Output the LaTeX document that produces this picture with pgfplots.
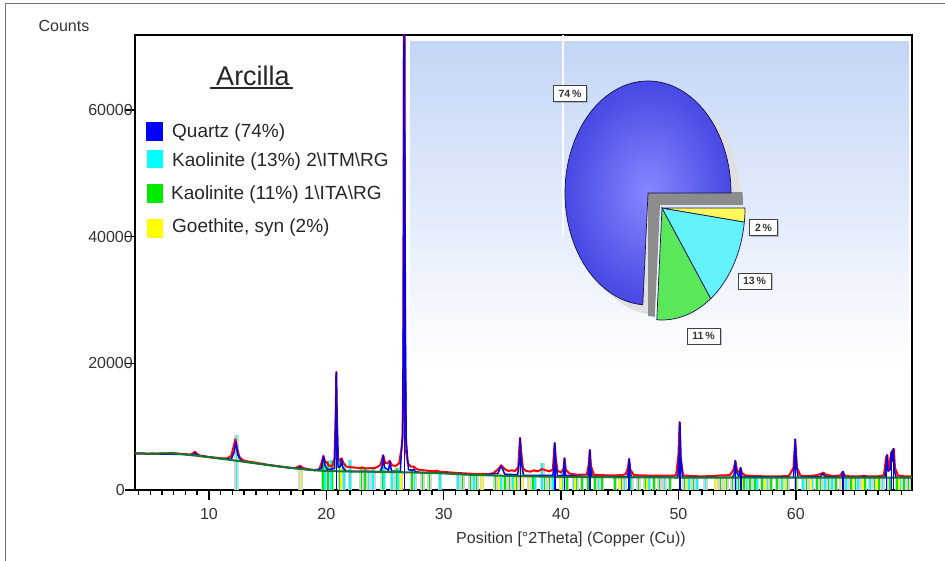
\documentclass[border=0pt]{standalone}
\usepackage{pgfplots}
\pgfplotsset{compat=1.18}
\usepackage{pgfplotstable}
\usepackage{fontspec}
\setmainfont{Liberation Sans}
\usetikzlibrary{shadows}

\definecolor{obsred}{RGB}{255,0,0}
\definecolor{calcblue}{RGB}{0,0,235}
\definecolor{bggreen}{RGB}{20,120,40}
\definecolor{stcyan}{RGB}{0,255,255}
\definecolor{stgreen}{RGB}{0,235,0}
\definecolor{styellow}{RGB}{255,255,0}
\definecolor{stgray}{RGB}{212,212,212}
\definecolor{pieblueIn}{RGB}{135,135,255}
\definecolor{pieblueOut}{RGB}{72,72,228}
\definecolor{piecyan}{RGB}{100,242,250}
\definecolor{piegreen}{RGB}{90,232,90}
\definecolor{pieyellow}{RGB}{255,250,90}
\definecolor{pieedge}{RGB}{20,20,80}
\definecolor{insettop}{RGB}{196,214,246}

% observed pattern (red)
\pgfplotstableread{
x y
3.7 5850
4.0 5750
4.4 5800
4.8 5700
5.2 5780
5.6 5720
6.0 5800
6.4 5760
6.8 5850
7.2 5780
7.6 5700
8.0 5650
8.4 5580
8.65 5800
8.8 6050
8.95 5750
9.2 5450
9.6 5350
10.0 5200
10.4 5150
10.8 5050
11.2 4980
11.6 5000
11.9 5400
12.1 6800
12.25 8000
12.4 6500
12.6 5200
12.9 4700
13.3 4500
13.7 4400
14.1 4250
14.5 4150
14.9 4000
15.3 3900
15.7 3800
16.1 3700
16.5 3600
16.9 3520
17.3 3450
17.6 3650
17.75 3850
17.9 3600
18.2 3350
18.6 3250
19.0 3150
19.4 3200
19.6 4300
19.75 5400
19.9 4500
20.05 4300
20.2 3900
20.5 3700
20.7 5000
20.8 12000
20.85 18600
20.9 12000
21.0 5000
21.15 4600
21.3 5000
21.45 4300
21.7 3700
22.0 3600
22.4 3550
22.8 3450
23.1 3500
23.4 3400
23.8 3450
24.2 3500
24.6 3900
24.85 5500
25.0 4300
25.2 4200
25.4 4600
25.6 3900
25.9 3800
26.2 4200
26.4 6500
26.5 8400
26.56 20000
26.6 72000
26.66 72000
26.72 20000
26.8 6000
26.95 4200
27.2 3700
27.45 3700
27.7 3300
28.0 3150
28.4 3100
28.8 3000
29.2 2950
29.4 3050
29.6 2900
30.0 2850
30.5 2780
31.0 2700
31.5 2650
32.0 2600
32.5 2550
33.0 2500
33.4 2550
33.8 2500
34.2 2650
34.6 3200
34.9 3900
35.2 3300
35.5 3000
35.8 3100
36.1 3000
36.35 3600
36.5 8200
36.6 6000
36.75 3500
37.0 3000
37.4 2900
37.7 3100
38.0 2950
38.4 3300
38.7 3100
39.0 2950
39.3 3200
39.45 7400
39.55 5000
39.7 3000
40.0 2800
40.2 3300
40.3 5000
40.4 3200
40.7 2600
41.2 2450
41.7 2400
42.2 2450
42.35 4000
42.45 6300
42.55 3800
42.8 2400
43.4 2350
44.0 2300
44.6 2300
45.2 2350
45.5 2500
45.7 3500
45.8 4900
45.9 3200
46.2 2350
47.0 2300
48.0 2250
49.0 2250
49.8 2300
50.0 5500
50.1 10700
50.2 5000
50.4 2300
51.0 2200
52.0 2150
53.0 2200
53.5 2300
54.0 2300
54.4 2400
54.7 3200
54.85 4600
55.0 3000
55.2 2800
55.3 3500
55.4 2700
55.7 2300
56.5 2200
57.5 2150
58.5 2150
59.4 2200
59.8 3500
59.95 8000
60.1 3500
60.4 2250
61.2 2200
61.8 2350
62.2 2600
62.35 2750
62.6 2400
63.2 2200
63.8 2300
64.0 2900
64.15 2300
64.6 2150
65.5 2150
65.8 2250
66.1 2150
67.0 2150
67.5 2300
67.7 5200
67.8 5500
67.9 3000
68.05 5000
68.15 6000
68.25 6200
68.35 6500
68.45 3500
68.7 2300
69.3 2150
69.9 2150
}\obsT

% calculated pattern (blue)
\pgfplotstableread{
x y
3.7 5750
8.0 5600
8.6 5450
8.8 5900
9.0 5400
10.0 5180
11.0 4950
11.9 4850
12.15 6000
12.3 7600
12.45 5600
12.7 4700
13.0 4450
15.0 3950
17.0 3480
17.6 3350
17.75 3700
17.9 3300
19.0 3100
19.6 3400
19.75 5300
19.9 3800
20.1 3200
20.7 3400
20.8 11000
20.85 18600
20.9 11000
21.0 3600
21.2 3700
21.3 4900
21.4 3500
21.7 2950
24.6 2900
24.75 3600
24.85 5400
24.95 3600
25.3 3100
25.42 4500
25.55 3000
26.3 2900
26.5 9000
26.57 30000
26.62 72000
26.66 72000
26.72 30000
26.8 8000
27.0 3200
27.35 3100
27.45 3300
27.6 2900
28.0 2760
30.0 2650
33.0 2350
34.6 2600
34.9 3800
35.2 2500
36.3 2400
36.45 4500
36.52 8200
36.6 4500
36.8 2300
39.3 2300
39.4 4000
39.47 7400
39.55 4000
39.7 2200
40.2 2300
40.29 5000
40.38 2300
42.3 2100
42.38 3500
42.45 6300
42.52 3500
42.65 2100
45.65 2100
45.73 3000
45.8 4900
45.88 2900
46.0 2050
49.95 2000
50.05 5000
50.12 10700
50.2 5000
50.35 2000
54.7 2000
54.78 3000
54.85 4600
54.93 2900
55.15 2100
55.3 3500
55.4 2100
59.8 2000
59.88 4000
59.95 8000
60.05 4000
60.2 2000
62.1 2100
62.3 2600
62.5 2100
63.9 2000
64.02 2900
64.15 2000
65.7 2000
65.8 2250
65.9 2000
67.6 2000
67.68 3500
67.75 5500
67.85 3000
68.05 3200
68.14 6000
68.22 4500
68.3 6500
68.4 3000
68.55 2000
69.9 1950
}\calcT

% background (green)
\pgfplotstableread{
x y
3.7 5800
5.0 5720
6.7 5800
8.0 5600
9.0 5400
10.0 5180
11.0 4950
12.0 4700
13.0 4450
14.0 4200
15.0 3950
16.0 3700
17.0 3480
18.0 3300
19.0 3100
20.0 3000
21.0 2950
22.0 2920
23.0 2900
24.0 2880
25.0 2850
26.0 2820
27.0 2780
28.0 2740
30.0 2620
32.0 2420
34.0 2300
36.0 2200
38.0 2130
40.0 2080
43.0 2030
46.0 1990
50.0 1970
55.0 1960
60.0 1960
65.0 1960
69.9 1960
}\bgT

% reference sticks: Kaolinite 2 (cyan)
\pgfplotstableread{
x y
12.35 8600
19.9 4400
20.4 4700
21.5 4300
22.0 4800
23.6 3200
24.0 3300
24.9 3600
25.6 3000
26.1 3200
27.5 2900
29.7 2600
31.2 2300
32.6 2300
34.9 2400
35.9 2500
37.3 2300
37.8 2400
38.4 4300
39.3 2500
40.1 3000
41.1 2200
43.2 2100
45.4 2200
46.0 2100
47.5 2100
48.8 2100
50.9 2100
51.6 2100
52.3 2100
54.9 2200
55.8 2100
56.7 2100
57.6 2100
58.8 2100
60.6 2100
61.4 2000
62.5 2300
63.1 2100
64.3 2100
65.3 2100
66.3 2100
67.4 2100
68.9 2100
}\cyanT

% Kaolinite 1 (green)
\pgfplotstableread{
x y
19.7 4300
20.15 4500
20.5 4600
21.15 4400
23.0 3800
23.3 3700
24.8 3600
26.0 3500
27.3 3300
28.2 2800
28.8 2800
31.6 2400
32.3 2400
32.8 2400
34.4 2400
35.2 2400
35.6 2400
36.2 2400
37.6 2300
38.6 2300
39.0 2300
40.5 2300
41.3 2200
41.8 2200
42.3 2200
42.9 2200
43.5 2100
44.6 2100
45.1 2100
45.9 2100
46.6 2100
47.2 2100
47.9 2100
48.4 2100
49.3 2100
50.5 2100
51.3 2100
53.6 2100
54.1 2100
54.6 2300
55.1 2200
55.6 2100
56.1 2100
56.5 2100
57.1 2100
57.9 2100
58.4 2100
59.3 2100
60.0 2100
60.9 2100
61.8 2100
62.1 2100
62.8 2100
63.4 2100
64.7 2100
65.1 2100
65.9 2100
66.7 2100
67.1 2100
68.0 2100
68.6 2100
69.2 2100
69.6 2100
}\greenT

% Goethite (yellow)
\pgfplotstableread{
x y
17.8 3500
21.25 5000
26.35 2700
33.25 2600
34.7 2700
36.1 2500
36.65 3500
37.3 2300
40.0 2400
41.2 2300
45.0 2200
47.3 2100
50.7 2100
53.2 2200
54.0 2100
55.4 2100
57.4 2100
59.0 2100
61.3 2100
63.9 2100
64.9 2100
65.7 2100
66.9 2100
68.8 2100
}\yellowT

% Quartz (blue)
\pgfplotstableread{
x y
20.86 17500
26.64 72000
36.54 7800
39.47 7000
40.29 4700
42.45 6000
45.79 4600
50.14 10200
54.87 4300
55.33 3300
59.96 7600
64.03 2700
67.74 5200
68.14 5700
68.31 6200
}\quartzT

\begin{document}
\begin{tikzpicture}[x=1pt,y=1pt]
\useasboundingbox (0,0) rectangle (945,561);

% pie-chart shares (percent)
\def\pQ{74}\def\pKa{13}\def\pKb{11}\def\pG{2}
\pgfmathsetmacro\aA{3.6*\pQ}
\pgfmathsetmacro\aB{\aA+3.6*\pKb}
\pgfmathsetmacro\aC{\aB+3.6*\pKa}
\pgfmathsetmacro\aD{\aC+3.6*\pG}

% outer frame (top and left)
\draw[black!55, line width=1pt] (5,0) -- (5,557) -- (945,557);

\begin{axis}[
  at={(135pt,71pt)}, anchor=south west,
  scale only axis, width=777pt, height=455pt,
  xmin=3.7, xmax=69.9, ymin=0, ymax=71800,
  scaled y ticks=false, scaled x ticks=false,
  axis line style={line width=1.8pt},
  tick align=outside, tick pos=left,
  xtick={10,20,30,40,50,60},
  xticklabels={10,20,30,40,50,60},
  minor xtick={4,5,...,69},
  ytick={0,20000,40000,60000},
  yticklabels={0\hspace*{8pt},20000,40000,60000},
  major tick length=10pt, minor tick length=5pt,
  tick style={black, line width=1.5pt},
  tick label style={font=\fontsize{16}{18}\selectfont, text=black!80},
  xticklabel style={anchor=center, inner sep=0pt, yshift=-14pt},
  yticklabel style={anchor=east, inner sep=0pt, xshift=8pt},
  clip=true,
]
  \addplot[ycomb, no marks, draw=stgray, line width=4.5pt] table {\cyanT};
  \addplot[ycomb, no marks, draw=stgray, line width=4.5pt] table {\greenT};
  \addplot[ycomb, no marks, draw=stgray, line width=4.5pt] table {\yellowT};
  \addplot[ycomb, no marks, draw=stgreen, line width=1.6pt] table {\greenT};
  \addplot[ycomb, no marks, draw=stcyan, line width=1.6pt] table {\cyanT};
  \addplot[ycomb, no marks, draw=styellow, line width=1.6pt] table {\yellowT};
  \addplot[no marks, draw=obsred, line width=2pt, line join=round] table {\obsT};
  \addplot[no marks, draw=calcblue, line width=1.5pt, line join=round] table {\calcT};
  \addplot[no marks, draw=bggreen, line width=2pt] table {\bgT};
  \addplot[ycomb, no marks, draw=calcblue, line width=1.5pt] table {\quartzT};
\end{axis}

% pie-chart inset
\begin{axis}[
  at={(410pt,191pt)}, anchor=south west,
  scale only axis, width=499pt, height=328pt,
  xmin=410, xmax=909, ymin=191, ymax=519,
  hide axis, clip=false,
]
  \shade[top color=insettop, bottom color=white] (axis cs:410,519) rectangle (axis cs:909,191);
  \draw[white, line width=1.2pt] (axis cs:563,526) -- (axis cs:563,326);
  % faint shadow
  \fill[black!12] (axis cs:658,358) -- ++(0:83pt and 112pt)
     arc[start angle=0, end angle=\aA, x radius=83pt, y radius=112pt] -- cycle;
  % shadow in the notch
  \begin{scope}
    \clip (axis cs:648,241) rectangle (axis cs:752,368);
    \fill[black!45] (axis cs:660,356) -- ++(0:83pt and 112pt)
       arc[start angle=0, end angle=\aA, x radius=83pt, y radius=112pt] -- cycle;
  \end{scope}
  % Quartz slice (pulled out)
  \shadedraw[inner color=pieblueIn, outer color=pieblueOut, draw=pieedge, line width=0.7pt]
     (axis cs:648,368) -- ++(0:83pt and 112pt)
     arc[start angle=0, end angle=\aA, x radius=83pt, y radius=112pt] -- cycle;
  % remaining slices
  \filldraw[fill=piegreen, draw=pieedge, line width=0.7pt]
     (axis cs:662,353) -- ++(\aA:83pt and 112pt)
     arc[start angle=\aA, end angle=\aB, x radius=83pt, y radius=112pt] -- cycle;
  \filldraw[fill=piecyan, draw=pieedge, line width=0.7pt]
     (axis cs:662,353) -- ++(\aB:83pt and 112pt)
     arc[start angle=\aB, end angle=\aC, x radius=83pt, y radius=112pt] -- cycle;
  \filldraw[fill=pieyellow, draw=pieedge, line width=0.7pt]
     (axis cs:662,353) -- ++(\aC:83pt and 112pt)
     arc[start angle=\aC, end angle=\aD, x radius=83pt, y radius=112pt] -- cycle;
  % value labels
  \tikzset{pl/.style={draw=black!75, fill=white, line width=0.6pt, inner sep=0pt,
     minimum width=33pt, minimum height=16pt, font=\fontsize{10.5}{12}\selectfont\bfseries,
     text=black!80,
     drop shadow={shadow xshift=1.5pt, shadow yshift=-1.5pt, fill=black!45}}}
  \node[pl] at (axis cs:570,467.5) {74\,\%};
  \node[pl, minimum width=28pt] at (axis cs:763.5,333.5) {2\,\%};
  \node[pl] at (axis cs:754.5,280) {13\,\%};
  \node[pl] at (axis cs:703.5,225) {11\,\%};
\end{axis}

% axis titles
\node[font=\fontsize{16}{18}\selectfont, text=black!80] at (64,535) {Counts};
\node[font=\fontsize{16}{18}\selectfont, text=black!80] at (571,22) {Position [°2Theta] (Copper (Cu))};

% legend
\node[font=\fontsize{27}{30}\selectfont, text=black!85] at (253,485) {Arcilla};
\draw[black!85, line width=1.5pt] (210,473) -- (293,473);
\fill[blue] (146,420) rectangle (163,439);
\fill[stcyan] (147,393) rectangle (163,411);
\fill[stgreen] (147,358) rectangle (163,377);
\fill[styellow] (147,323) rectangle (163,342);
\tikzset{lt/.style={anchor=west, inner sep=0pt, font=\fontsize{19}{22}\selectfont, text=black!85}}
\node[lt] at (172,428) {Quartz (74\%)};
\node[lt] at (172,399) {Kaolinite (13\%) 2\textbackslash ITM\textbackslash RG};
\node[lt] at (171,366) {Kaolinite (11\%) 1\textbackslash ITA\textbackslash RG};
\node[lt] at (172,333) {Goethite, syn (2\%)};
\end{tikzpicture}
\end{document}
